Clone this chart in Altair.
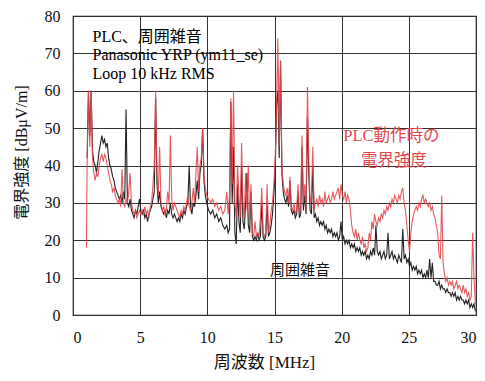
import altair as alt
import pandas as pd

# PLC operating field strength (red)
plc_freq = [1.00,1.05,1.15,1.25,1.35,1.45,1.55,1.65,1.75,1.85,1.95,2.05,2.15,2.25,2.35,2.45,2.55,2.65,2.75,2.85,2.95,
            3.05,3.15,3.25,3.35,3.45,3.55,3.65,3.75,3.85,3.95,4.05,4.15,4.25,4.35,4.45,4.55,4.65,4.75,4.85,4.95,
            5.05,5.15,5.25,5.35,5.45,5.55,5.65,5.75,5.85,5.95,6.05,6.15,6.25,6.35,6.45,6.55,6.65,6.75,6.85,6.95,
            7.05,7.15,7.25,7.35,7.45,7.55,7.65,7.75,7.85,7.95,8.05,8.15,8.25,8.35,8.45,8.55,8.65,8.75,8.85,8.95,
            9.05,9.15,9.25,9.35,9.45,9.55,9.65,9.75,9.85,9.95,10.1,10.25,10.4,10.55,10.7,10.85,11.0,11.15,11.3,11.45,
            11.55,11.65,11.75,11.85,11.95,12.05,12.15,12.25,12.35,12.45,12.55,12.65,12.75,12.85,12.95,
            13.05,13.15,13.25,13.35,13.45,13.55,13.65,13.75,13.85,13.95,14.05,14.15,14.25,14.35,14.45,14.55,14.65,14.75,14.85,14.95,
            15.05,15.15,15.25,15.35,15.45,15.55,15.65,15.75,15.85,15.95,16.05,16.15,16.25,16.35,16.45,16.55,16.65,16.75,16.85,16.95,
            17.05,17.15,17.25,17.35,17.45,17.55,17.65,17.75,17.85,17.95,18.05,18.15,18.25,18.35,18.45,18.55,18.65,18.75,18.85,18.95,
            19.05,19.15,19.25,19.35,19.45,19.55,19.65,19.75,19.85,19.95,20.05,20.15,20.25,20.35,20.45,20.55,20.65,20.75,20.85,20.95,
            21.05,21.15,21.25,21.35,21.45,21.55,21.65,21.75,21.85,21.95,22.05,22.15,22.25,22.35,22.45,22.55,22.65,22.75,22.85,22.95,
            23.05,23.15,23.25,23.35,23.45,23.55,23.65,23.75,23.85,23.95,24.05,24.15,24.25,24.35,24.45,24.55,24.65,24.75,24.85,24.95,
            25.05,25.15,25.25,25.35,25.45,25.55,25.65,25.75,25.85,25.95,26.05,26.15,26.25,26.35,26.45,26.55,26.65,26.75,26.85,26.95,
            27.05,27.15,27.25,27.35,27.45,27.55,27.65,27.75,27.85,27.95,28.05,28.15,28.25,28.35,28.45,28.55,28.65,28.75,28.85,28.95,
            29.05,29.15,29.25,29.35,29.45,29.55,29.65,29.75,29.85,29.95]
plc_db = [18,40,60,45,60,42,38,36,38,37,40,42,43,41,43,42,40,38,36,35,33,
          34,32,31,30,31,29,39,30,29,31,30,33,38,30,28,27,28,26,27,28,
          27,28,27,29,27,28,26,29,30,35,40,60,38,32,45,30,28,29,27,28,
          33,30,48,31,28,30,29,28,27,26,28,27,29,28,30,32,29,28,30,34,
          30,38,45,33,40,42,50,38,34,32,31,30,31,29,30,28,29,27,28,33,
          27,32,58,35,60,30,26,40,32,26,46,30,26,38,28,
          40,25,35,22,21,25,21,22,21,26,34,22,21,22,35,22,24,28,30,35,
          42,55,74,45,68,40,35,33,32,34,30,37,29,28,30,27,28,35,27,29,
          48,30,35,28,61,42,30,32,45,28,30,31,29,32,30,31,29,33,30,31,
          32,30,31,33,31,32,33,34,31,35,32,31,33,30,32,31,28,24,22,21,
          23,20,22,20,19,21,18,19,17,18,22,20,25,23,27,25,24,26,25,27,
          26,28,27,29,28,30,29,31,30,32,31,30,32,31,33,34,30,28,24,20,
          17,22,25,27,28,29,28,30,29,31,32,30,31,30,29,30,28,29,27,26,
          24,22,16,15,32,14,11,9,10,8,9,8,9,7,8,9,7,8,7,6,
          8,6,7,5,6,4,5,22,10,3]

# Ambient noise (black)
noise_freq = [1.05,1.15,1.25,1.35,1.45,1.55,1.65,1.75,1.85,1.95,2.05,2.15,2.25,2.35,2.45,2.55,2.65,2.75,2.85,2.95,
              3.05,3.15,3.25,3.35,3.45,3.55,3.65,3.75,3.85,3.95,4.05,4.15,4.25,4.35,4.45,4.55,4.65,4.75,4.85,4.95,
              5.05,5.15,5.25,5.35,5.45,5.55,5.65,5.75,5.85,5.95,6.05,6.15,6.25,6.35,6.45,6.55,6.65,6.75,6.85,6.95,
              7.05,7.15,7.25,7.35,7.45,7.55,7.65,7.75,7.85,7.95,8.05,8.15,8.25,8.35,8.45,8.55,8.65,8.75,8.85,8.95,
              9.05,9.15,9.25,9.35,9.45,9.55,9.65,9.75,9.85,9.95,10.1,10.25,10.4,10.55,10.7,10.85,11.0,11.15,11.3,11.45,
              11.55,11.65,11.75,11.85,11.95,12.05,12.15,12.25,12.35,12.45,12.55,12.65,12.75,12.85,12.95,
              13.05,13.15,13.25,13.35,13.45,13.55,13.65,13.75,13.85,13.95,14.05,14.15,14.25,14.35,14.45,14.55,14.65,14.75,14.85,14.95,
              15.05,15.15,15.25,15.35,15.45,15.55,15.65,15.75,15.85,15.95,16.05,16.15,16.25,16.35,16.45,16.55,16.65,16.75,16.85,16.95,
              17.05,17.15,17.25,17.35,17.45,17.55,17.65,17.75,17.85,17.95,18.05,18.15,18.25,18.35,18.45,18.55,18.65,18.75,18.85,18.95,
              19.05,19.15,19.25,19.35,19.45,19.55,19.65,19.75,19.85,19.95,20.05,20.15,20.25,20.35,20.45,20.55,20.65,20.75,20.85,20.95,
              21.05,21.15,21.25,21.35,21.45,21.55,21.65,21.75,21.85,21.95,22.05,22.15,22.25,22.35,22.45,22.55,22.65,22.75,22.85,22.95,
              23.05,23.15,23.25,23.35,23.45,23.55,23.65,23.75,23.85,23.95,24.05,24.15,24.25,24.35,24.45,24.55,24.65,24.75,24.85,24.95,
              25.05,25.15,25.25,25.35,25.45,25.55,25.65,25.75,25.85,25.95,26.05,26.15,26.25,26.35,26.45,26.55,26.65,26.75,26.85,26.95,
              27.05,27.15,27.25,27.35,27.45,27.55,27.65,27.75,27.85,27.95,28.05,28.15,28.25,28.35,28.45,28.55,28.65,28.75,28.85,28.95,
              29.05,29.15,29.25,29.35,29.45,29.55,29.65,29.75,29.85,29.95]
noise_db = [42,60,48,60,44,41,40,38,41,44,46,48,46,47,45,46,42,40,39,37,
            36,34,33,32,31,32,30,33,31,55,30,29,31,28,27,26,28,27,29,31,
            28,27,28,26,27,25,27,28,29,31,33,58,35,30,33,29,28,27,28,26,
            28,27,30,27,26,27,26,25,26,25,27,26,28,27,29,30,40,29,27,30,
            29,32,36,31,38,40,50,36,32,30,28,27,28,26,27,25,26,24,23,24,
            22,23,57,30,45,22,19,35,25,22,40,25,23,30,38,
            24,22,33,21,20,21,20,22,20,21,30,21,20,21,30,21,22,24,27,32,
            38,56,60,42,68,38,33,31,30,32,29,36,28,27,28,26,27,33,26,27,
            45,28,32,27,53,38,28,27,40,26,27,25,26,24,25,24,25,23,24,22,
            23,22,23,21,22,21,22,20,21,25,20,21,19,20,19,20,18,19,18,19,
            17,18,17,18,16,17,16,17,15,16,15,17,16,18,16,24,17,16,17,15,
            16,17,15,16,22,15,16,17,15,16,15,14,16,15,14,23,15,16,14,15,
            13,14,12,13,12,13,11,12,11,12,10,11,10,12,10,15,10,14,9,9,
            8,8,9,7,8,7,7,6,7,6,6,5,6,5,6,4,5,4,5,4,
            4,3,4,3,4,2,3,2,3,1]

# Axis tick values
x_ticks = [0, 5, 10, 15, 20, 25, 30]
y_ticks = [0, 10, 20, 30, 40, 50, 60, 70, 80]

# Annotations
note_text = ["PLC、周囲雑音", "Panasonic YRP (ym11_se)", "Loop 10 kHz RMS"]
note_x = [1.45, 1.45, 1.45]
note_y = [74.5, 69.5, 64.5]
red_text = ["PLC動作時の", "電界強度"]
red_x = [23.7, 23.9]
red_y = [47.8, 41.2]
noise_text = ["周囲雑音"]
noise_x = [16.9]
noise_y = [12.0]

SERIF = "Liberation Serif, Noto Sans CJK JP"
CJK = "Noto Sans CJK JP"
RED = "#e4474e"

df_plc = pd.DataFrame({"f": plc_freq, "v": plc_db})
df_noise = pd.DataFrame({"f": noise_freq, "v": noise_db})

xscale = alt.Scale(domain=[0, 30], nice=False, zero=False)
yscale = alt.Scale(domain=[0, 80], nice=False)

xaxis = alt.Axis(values=x_ticks, title="周波数 [MHz]", grid=True,
                 gridColor="#333333", gridWidth=1, ticks=False, domain=False, labelOverlap=False,
                 labelFont=SERIF, labelFontSize=16, labelColor="#111", labelPadding=14,
                 titleFont=SERIF, titleFontSize=17, titleFontWeight="normal", titleColor="#111",
                 titleX=191, titleY=56, titleBaseline="bottom")
yaxis = alt.Axis(values=y_ticks, title="電界強度 [dBμV/m]", grid=True,
                 gridColor="#333333", gridWidth=1, ticks=False, domain=False, labelOverlap=False,
                 labelFont=SERIF, labelFontSize=16, labelColor="#111", labelPadding=13,
                 titleFont=SERIF, titleFontSize=16, titleFontWeight="normal", titleColor="#111",
                 titleX=-52, titleY=136, titleBaseline="middle")

X = alt.X("f:Q", scale=xscale, axis=xaxis)
Y = alt.Y("v:Q", scale=yscale, axis=yaxis)
XA = alt.X("x:Q", scale=xscale, axis=xaxis)
YA = alt.Y("y:Q", scale=yscale, axis=yaxis)

noise_line = alt.Chart(df_noise).mark_line(color="#222222", strokeWidth=1.1).encode(x=X, y=Y)
plc_line = alt.Chart(df_plc).mark_line(color=RED, strokeWidth=1.1, opacity=0.9).encode(x=X, y=Y)

notes = alt.Chart(pd.DataFrame({"t": note_text, "x": note_x, "y": note_y})).mark_text(
    align="left", baseline="middle", font=SERIF, fontSize=16, color="#000").encode(
    x=XA, y=YA, text="t:N")
red_notes = alt.Chart(pd.DataFrame({"t": red_text, "x": red_x, "y": red_y})).mark_text(
    align="center", baseline="middle", font=SERIF, fontSize=16.5, color=RED).encode(
    x=XA, y=YA, text="t:N")
noise_notes = alt.Chart(pd.DataFrame({"t": noise_text, "x": noise_x, "y": noise_y})).mark_text(
    align="center", baseline="middle", font=CJK, fontSize=15, color="#111").encode(
    x=XA, y=YA, text="t:N")

chart = alt.layer(noise_line, plc_line, notes, red_notes, noise_notes).properties(
    width=403, height=299,
    autosize=alt.AutoSizeParams(type="none"),
    padding={"left": 65, "top": 8, "right": 1, "bottom": 58},
).configure(
    background="white",
    view=alt.ViewConfig(stroke="#111111", strokeWidth=1.2),
    axis=alt.AxisConfig(labelOverlap=False),
)

chart.save("out.html", embed_options={"renderer": "svg", "actions": False})
